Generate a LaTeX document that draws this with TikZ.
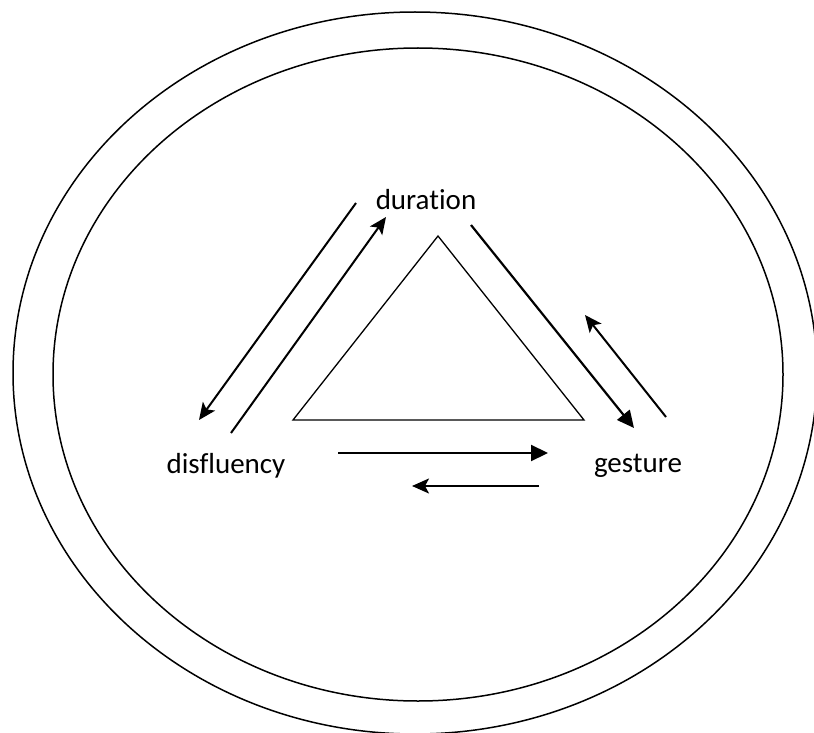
\documentclass[tikz,border=0pt]{standalone}
\usepackage{fontspec}
\setmainfont{Carlito}[Ligatures=NoCommon]
\usetikzlibrary{arrows.meta}
\tikzset{
  labelnode/.style={font=\fontsize{29}{34}\selectfont,inner sep=0pt},
  ringline/.style={line width=1.5pt,draw=black},
  shapeline/.style={line width=1.3pt,draw=black,line join=miter},
  bigarrow/.style={-{Triangle[length=17pt,width=16pt]},line width=2.2pt},
  thinarrow/.style={-{Stealth[length=17pt,width=15pt,inset=4pt]},line width=2pt}
}
\begin{document}
\begin{tikzpicture}[x=1pt,y=-1pt]
\useasboundingbox (0,0) rectangle (814,733);
\draw[ringline] (415,373) ellipse [x radius=402,y radius=361];
\draw[ringline] (418,374.5) ellipse [x radius=365,y radius=326.5];
\draw[shapeline] (293,420) -- (584,420) -- (438,236) -- cycle;
\node[labelnode] (dur) at (426,200) {duration};
\node[labelnode] (disf) at (226,466) {disfluency};
\node[labelnode] (gest) at (638,466) {gesture};
\coordinate (a1) at (356,203); \coordinate (b1) at (199,420);
\coordinate (a2) at (231,433); \coordinate (b2) at (386,217);
\coordinate (a3) at (471,225); \coordinate (b3) at (634,428);
\coordinate (a4) at (666,417); \coordinate (b4) at (585,315);
\coordinate (a5) at (338,453); \coordinate (b5) at (548,453);
\coordinate (a6) at (539,486); \coordinate (b6) at (412,486);
\draw[thinarrow] (a1) -- (b1);
\draw[thinarrow] (a2) -- (b2);
\draw[bigarrow] (a3) -- (b3);
\draw[thinarrow] (a4) -- (b4);
\draw[bigarrow] (a5) -- (b5);
\draw[thinarrow] (a6) -- (b6);
\end{tikzpicture}
\end{document}
